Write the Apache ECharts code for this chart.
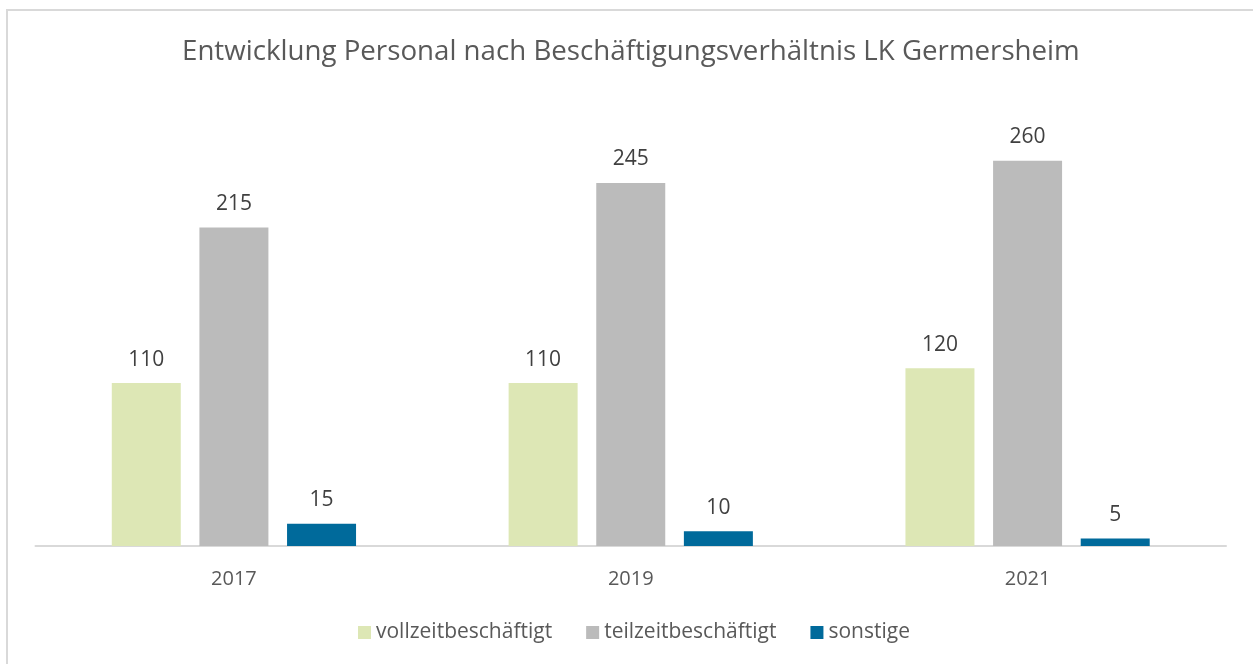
<!DOCTYPE html>
<html>
<head>
<meta charset="utf-8">
<script src="https://cdn.jsdelivr.net/npm/echarts@6/dist/echarts.min.js"></script>
<style>
  html, body { margin: 0; padding: 0; background: #fff; }
  #frame { position: absolute; left: 6px; top: 9px; width: 1260px; height: 670px; border: 2px solid #d9d9d9; box-sizing: border-box; }
  #chart { position: absolute; left: 0; top: 0; width: 1253px; height: 664px; }
</style>
</head>
<body>
<div id="frame"></div>
<div id="chart"></div>
<script>
const years = ['2017', '2019', '2021'];
const vollzeit = [110, 110, 120];
const teilzeit = [215, 245, 260];
const sonstige = [15, 10, 5];
const seriesNames = ['vollzeitbeschäftigt', 'teilzeitbeschäftigt', 'sonstige'];
const colors = ['#dde7b5', '#bbbbbb', '#006a9b'];

const font = 'Open Sans, Noto Sans, sans-serif';
const chart = echarts.init(document.getElementById('chart'));

const makeBar = (name, data, color) => ({
    name: name,
    type: 'bar',
    data: data,
    barWidth: 69,
    barGap: '27%',
    itemStyle: { color: color },
    label: {
        show: true,
        position: 'top',
        distance: 13,
        color: '#404040',
        fontSize: 21,
        fontFamily: font
    }
})

chart.setOption({
    animation: false,
    color: colors,
    title: {
        text: 'Entwicklung Personal nach Beschäftigungsverhältnis LK Germersheim',
        left: 174,
        top: 33,
        padding: [5, 0, 5, 8],
        textStyle: { color: '#595959', fontSize: 27.7, fontWeight: 'normal', fontFamily: font }
    },
    legend: {
        bottom: 16,
        left: 346,
        padding: [5, 0, 5, 12],
        itemWidth: 13,
        itemHeight: 13,
        itemGap: 34,
        icon: 'rect',
        textStyle: { color: '#595959', fontSize: 21, fontFamily: font }
    },
    grid: { left: 35.5, right: 27, top: 101.5, bottom: 118 },
    xAxis: {
        type: 'category',
        data: years,
        axisLine: { lineStyle: { color: '#d9d9d9', width: 2 } },
        axisTick: { show: false },
        axisLabel: { color: '#595959', fontSize: 20, fontFamily: font, margin: 23 }
    },
    yAxis: {
        type: 'value',
        min: 0,
        max: 300,
        show: false,
        splitLine: { show: false }
    },
    series: [
        makeBar(seriesNames[0], vollzeit, colors[0]),
        makeBar(seriesNames[1], teilzeit, colors[1]),
        makeBar(seriesNames[2], sonstige, colors[2])
    ]
});
</script>
</body>
</html>
